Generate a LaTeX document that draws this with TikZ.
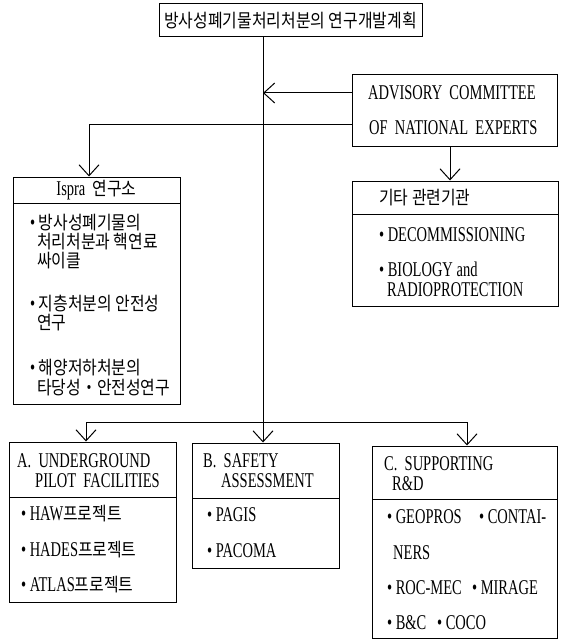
\documentclass[tikz,border=0pt]{standalone}
\usepackage{fontspec}
\setmainfont[FakeStretch=0.69]{Liberation Serif}
\newfontfamily\kr[FakeStretch=0.86]{Noto Sans CJK KR}
\usetikzlibrary{arrows.meta}
\tikzset{
  box/.style={draw, line width=1pt, inner sep=0pt},
  lat/.style={font=\fontsize{21}{22}\selectfont},
  txt/.style={anchor=west, inner sep=0pt, text height=14pt, text depth=0pt, font=\fontsize{21}{22}\selectfont},
  arr/.style={line width=1pt, -{Straight Barb[length=11pt,width=20pt,line width=1pt]}},
}
\newcommand{\K}[1]{{\kr\fontsize{18.5}{20}\selectfont #1}}
\begin{document}
\begin{tikzpicture}[x=1pt,y=-1pt]
\useasboundingbox (0,0) rectangle (561,639);
% boxes
\node[box, minimum width=263pt, minimum height=33pt] (top) at (290.5,20.5) {\K{방사성폐기물처리처분의 연구개발계획}};
\node[box, minimum width=205pt, minimum height=72pt] (adv) at (454.5,111) {};
\node[box, minimum width=167pt, minimum height=26pt, lat] (Ih) at (96.5,190) {Ispra\ \ \K{연구소}};
\node[box, minimum width=167pt, minimum height=201pt] (Ib) at (96.5,303.5) {};
\node[box, minimum width=206pt, minimum height=33pt] (Kh) at (455,197.5) {};
\node[box, minimum width=206pt, minimum height=92pt] (Kb) at (455,260) {};
\node[box, minimum width=167pt, minimum height=55pt] (Ah) at (92.5,469.5) {};
\node[box, minimum width=167pt, minimum height=105pt] (Ab) at (92.5,549.5) {};
\node[box, minimum width=147pt, minimum height=55pt] (Bh) at (265.5,470.5) {};
\node[box, minimum width=147pt, minimum height=70pt] (Bb) at (265.5,533) {};
\node[box, minimum width=185pt, minimum height=53pt] (Ch) at (464.5,472.5) {};
\node[box, minimum width=185pt, minimum height=139pt] (Cb) at (464.5,568.5) {};
% texts
\node[txt] (a1) at (368,93) {ADVISORY\ \ COMMITTEE};
\node[txt] (a2) at (369,128) {OF\ \ NATIONAL\ \ EXPERTS};
\node[txt] (i1) at (30,222) {\textbullet\,\K{방사성폐기물의}};
\node[txt] (i2) at (37,241) {\K{처리처분과 핵연료}};
\node[txt] (i3) at (37,260) {\K{싸이클}};
\node[txt] (i4) at (30,303) {\textbullet\,\K{지층처분의 안전성}};
\node[txt] (i5) at (37,322) {\K{연구}};
\node[txt] (i6) at (30,367) {\textbullet\,\K{해양저하처분의}};
\node[txt] (i7) at (37,387) {\K{타당성・안전성연구}};
\node[txt] (k0) at (379,197) {\K{기타 관련기관}};
\node[txt] (k1) at (379,234) {\textbullet\,DECOMMISSIONING};
\node[txt] (k2) at (379,269) {\textbullet\,BIOLOGY and};
\node[txt] (k3) at (387,289) {RADIOPROTECTION};
\node[txt] (h1) at (17,460) {A.\ \ UNDERGROUND};
\node[txt] (h2) at (35,480) {PILOT\ \ FACILITIES};
\node[txt] (p1) at (21,513) {\textbullet\,HAW\K{프로젝트}};
\node[txt] (p2) at (21,549) {\textbullet\,HADES\K{프로젝트}};
\node[txt] (p3) at (21,584) {\textbullet\,ATLAS\K{프로젝트}};
\node[txt] (s1) at (203,460) {B.\ \ SAFETY};
\node[txt] (s2) at (221,480) {ASSESSMENT};
\node[txt] (s3) at (207,514) {\textbullet\,PAGIS};
\node[txt] (s4) at (207,550) {\textbullet\,PACOMA};
\node[txt] (c1) at (384,463) {C.\ \ SUPPORTING};
\node[txt] (c2) at (392,483) {R\&D};
\node[txt] (c3) at (387,516) {\textbullet\,GEOPROS};
\node[txt] (c4) at (479,516) {\textbullet\,CONTAI-};
\node[txt] (c5) at (393,552) {NERS};
\node[txt] (c6) at (387,587) {\textbullet\,ROC-MEC};
\node[txt] (c7) at (472,587) {\textbullet\,MIRAGE};
\node[txt] (c8) at (387,622) {\textbullet\,B\&C};
\node[txt] (c9) at (437,622) {\textbullet\,COCO};
% connector coordinates
\coordinate (mx) at (263,0);
\coordinate (ya) at (0,93);
\coordinate (yb) at (0,125);
\coordinate (xi) at (89,0);
\coordinate (xk) at (450,0);
\coordinate (ys) at (0,422);
\coordinate (xa) at (86,0);
\coordinate (xc) at (467,0);
% connectors
\draw[arr] (top.south -| mx) -- (Bh.north -| mx);
\draw[arr] (adv.west |- ya) -- (mx |- ya);
\draw[arr] (adv.west |- yb) -| (Ih.north -| xi);
\draw[arr] (adv.south -| xk) -- (Kh.north -| xk);
\draw[arr] (mx |- ys) -| (Ah.north -| xa);
\draw[arr] (mx |- ys) -| (Ch.north -| xc);
\end{tikzpicture}
\end{document}
